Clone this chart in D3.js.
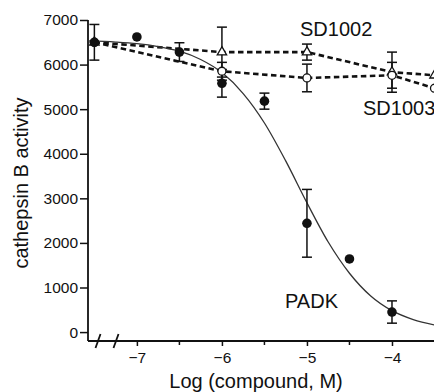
<html>
<head>
<meta charset="utf-8">
<title>cathepsin B activity</title>
<style>
  body { margin: 0; background: #fff; }
  text { font-family: 'Liberation Sans', Arial, sans-serif; fill: #111; }
</style>
<script src="https://cdnjs.cloudflare.com/ajax/libs/d3/7.8.5/d3.min.js"></script>
</head>
<body>
<div id="plot"></div>
<script>
  // values
  var padkX   = [-7.5, -7, -6.5, -6, -5.5, -5, -4.5, -4];
  var padkY   = [6500, 6620, 6280, 5580, 5180, 2440, 1640, 450];
  var padkErr = [400, 0, 210, 310, 180, 760, 0, 250];

  var sd1002X   = [-7.5, -6, -5, -4, -3.5];
  var sd1002Y   = [6500, 6280, 6280, 5830, 5760];
  var sd1002Err = [0, 560, 180, 450, 0];

  var sd1003X   = [-7.5, -6, -5, -4, -3.5];
  var sd1003Y   = [6500, 5850, 5700, 5760, 5470];
  var sd1003Err = [0, 200, 310, 290, 0];

  // fitted PADK curve
  var fitX = [-7.575, -7.25, -7, -6.75, -6.5, -6.25, -6, -5.75, -5.5, -5.25, -5, -4.75, -4.5, -4.25, -4, -3.75, -3.5];
  var fitY = [6530, 6505, 6470, 6405, 6300, 6115, 5820, 5350, 4690, 3840, 2900, 2020, 1320, 810, 480, 280, 160];

  var xMajor = [-7, -6, -5, -4];
  var xMinor = [-6.5, -5.5, -4.5];
  var yTicks = [0, 1000, 2000, 3000, 4000, 5000, 6000, 7000];

  var w = 434, h = 392;

  var x = d3.scaleLinear().domain([-7.575, -3.5]).range([88, 434.5]);
  var y = d3.scaleLinear().domain([-200, 7000]).range([341, 20]);

  var vis = d3.select("#plot").append("svg")
      .attr("width", w).attr("height", h);

  function zip(xs, ys, es) {
    return xs.map(function(v, i) { return { x: v, y: ys[i], e: es ? es[i] : 0 }; });
  }
  var padk = zip(padkX, padkY, padkErr),
      sd1002 = zip(sd1002X, sd1002Y, sd1002Err),
      sd1003 = zip(sd1003X, sd1003Y, sd1003Err),
      fit = zip(fitX, fitY);

  // axes
  var yAxis = d3.axisLeft(y).tickValues(yTicks).tickSize(8).tickPadding(2).tickFormat(d3.format("d"));
  var gy = vis.append("g").attr("transform", "translate(88,0)").call(yAxis);
  gy.select(".domain").attr("d", "M0," + y(7000) + "V" + y(-200));

  var xAxis = d3.axisBottom(x).tickValues(xMajor).tickSize(5).tickPadding(6).tickFormat(d3.format("d"));
  var gx = vis.append("g").attr("transform", "translate(0,341)").call(xAxis);
  gx.select(".domain").attr("d", "M88,0H434");
  gx.selectAll(".minor").data(xMinor).enter().append("line")
    .attr("x1", function(d) { return x(d); }).attr("x2", function(d) { return x(d); })
    .attr("y1", 0).attr("y2", 4).attr("stroke", "#111").attr("stroke-width", 1.5);

  vis.selectAll(".domain").attr("stroke", "#111").attr("stroke-width", 1.8);
  vis.selectAll(".tick line").attr("stroke", "#111").attr("stroke-width", 1.5);
  vis.selectAll(".tick text").style("font-size", "15.5px").attr("fill", "#111");

  // axis break marks
  [98, 116].forEach(function(bx) {
    vis.append("line").attr("x1", bx - 2.5).attr("y1", 348).attr("x2", bx + 2.5).attr("y2", 334)
      .attr("stroke", "#111").attr("stroke-width", 1.8);
  });

  // titles
  vis.append("text").attr("transform", "translate(28,183) rotate(-90)")
    .attr("text-anchor", "middle").style("font-size", "20px").text("cathepsin B activity");
  vis.append("text").attr("x", 256).attr("y", 388)
    .attr("text-anchor", "middle").style("font-size", "20px").text("Log (compound, M)");

  // lines
  var line = d3.line().x(function(d) { return x(d.x); }).y(function(d) { return y(d.y); });
  [sd1002, sd1003].forEach(function(s) {
    vis.append("path").datum(s).attr("d", line)
      .attr("fill", "none").attr("stroke", "#111").attr("stroke-width", 2.6)
      .attr("stroke-dasharray", "5.5,3.5");
  });
  vis.append("path").datum(fit).attr("d", line.curve(d3.curveMonotoneX))
    .attr("fill", "none").attr("stroke", "#333").attr("stroke-width", 1.3);

  // error bars
  function errBars(s) {
    var g = vis.append("g").attr("stroke", "#111").attr("stroke-width", 1.5);
    s.filter(function(d) { return d.e > 0; }).forEach(function(d) {
      var cx = x(d.x);
      g.append("line").attr("x1", cx).attr("x2", cx).attr("y1", y(d.y - d.e)).attr("y2", y(d.y + d.e));
      g.append("line").attr("x1", cx - 5).attr("x2", cx + 5).attr("y1", y(d.y + d.e)).attr("y2", y(d.y + d.e));
      g.append("line").attr("x1", cx - 5).attr("x2", cx + 5).attr("y1", y(d.y - d.e)).attr("y2", y(d.y - d.e));
    });
  }
  errBars(sd1002); errBars(sd1003); errBars(padk);

  // markers
  vis.selectAll(".tri").data(sd1002).enter().append("path")
    .attr("d", d3.symbol().type(d3.symbolTriangle).size(38))
    .attr("transform", function(d) { return "translate(" + x(d.x) + "," + y(d.y) + ")"; })
    .attr("fill", "#fff").attr("stroke", "#111").attr("stroke-width", 1.3);
  vis.selectAll(".ocirc").data(sd1003).enter().append("circle")
    .attr("cx", function(d) { return x(d.x); }).attr("cy", function(d) { return y(d.y); })
    .attr("r", 4).attr("fill", "#fff").attr("stroke", "#111").attr("stroke-width", 1.3);
  vis.selectAll(".fcirc").data(padk).enter().append("circle")
    .attr("cx", function(d) { return x(d.x); }).attr("cy", function(d) { return y(d.y); })
    .attr("r", 4.8).attr("fill", "#111");

  // series labels
  vis.append("text").attr("x", 300).attr("y", 36).style("font-size", "20px").text("SD1002");
  vis.append("text").attr("x", 363).attr("y", 115).style("font-size", "20px").text("SD1003");
  vis.append("text").attr("x", 285).attr("y", 308).style("font-size", "20px").text("PADK");
</script>
</body>
</html>
